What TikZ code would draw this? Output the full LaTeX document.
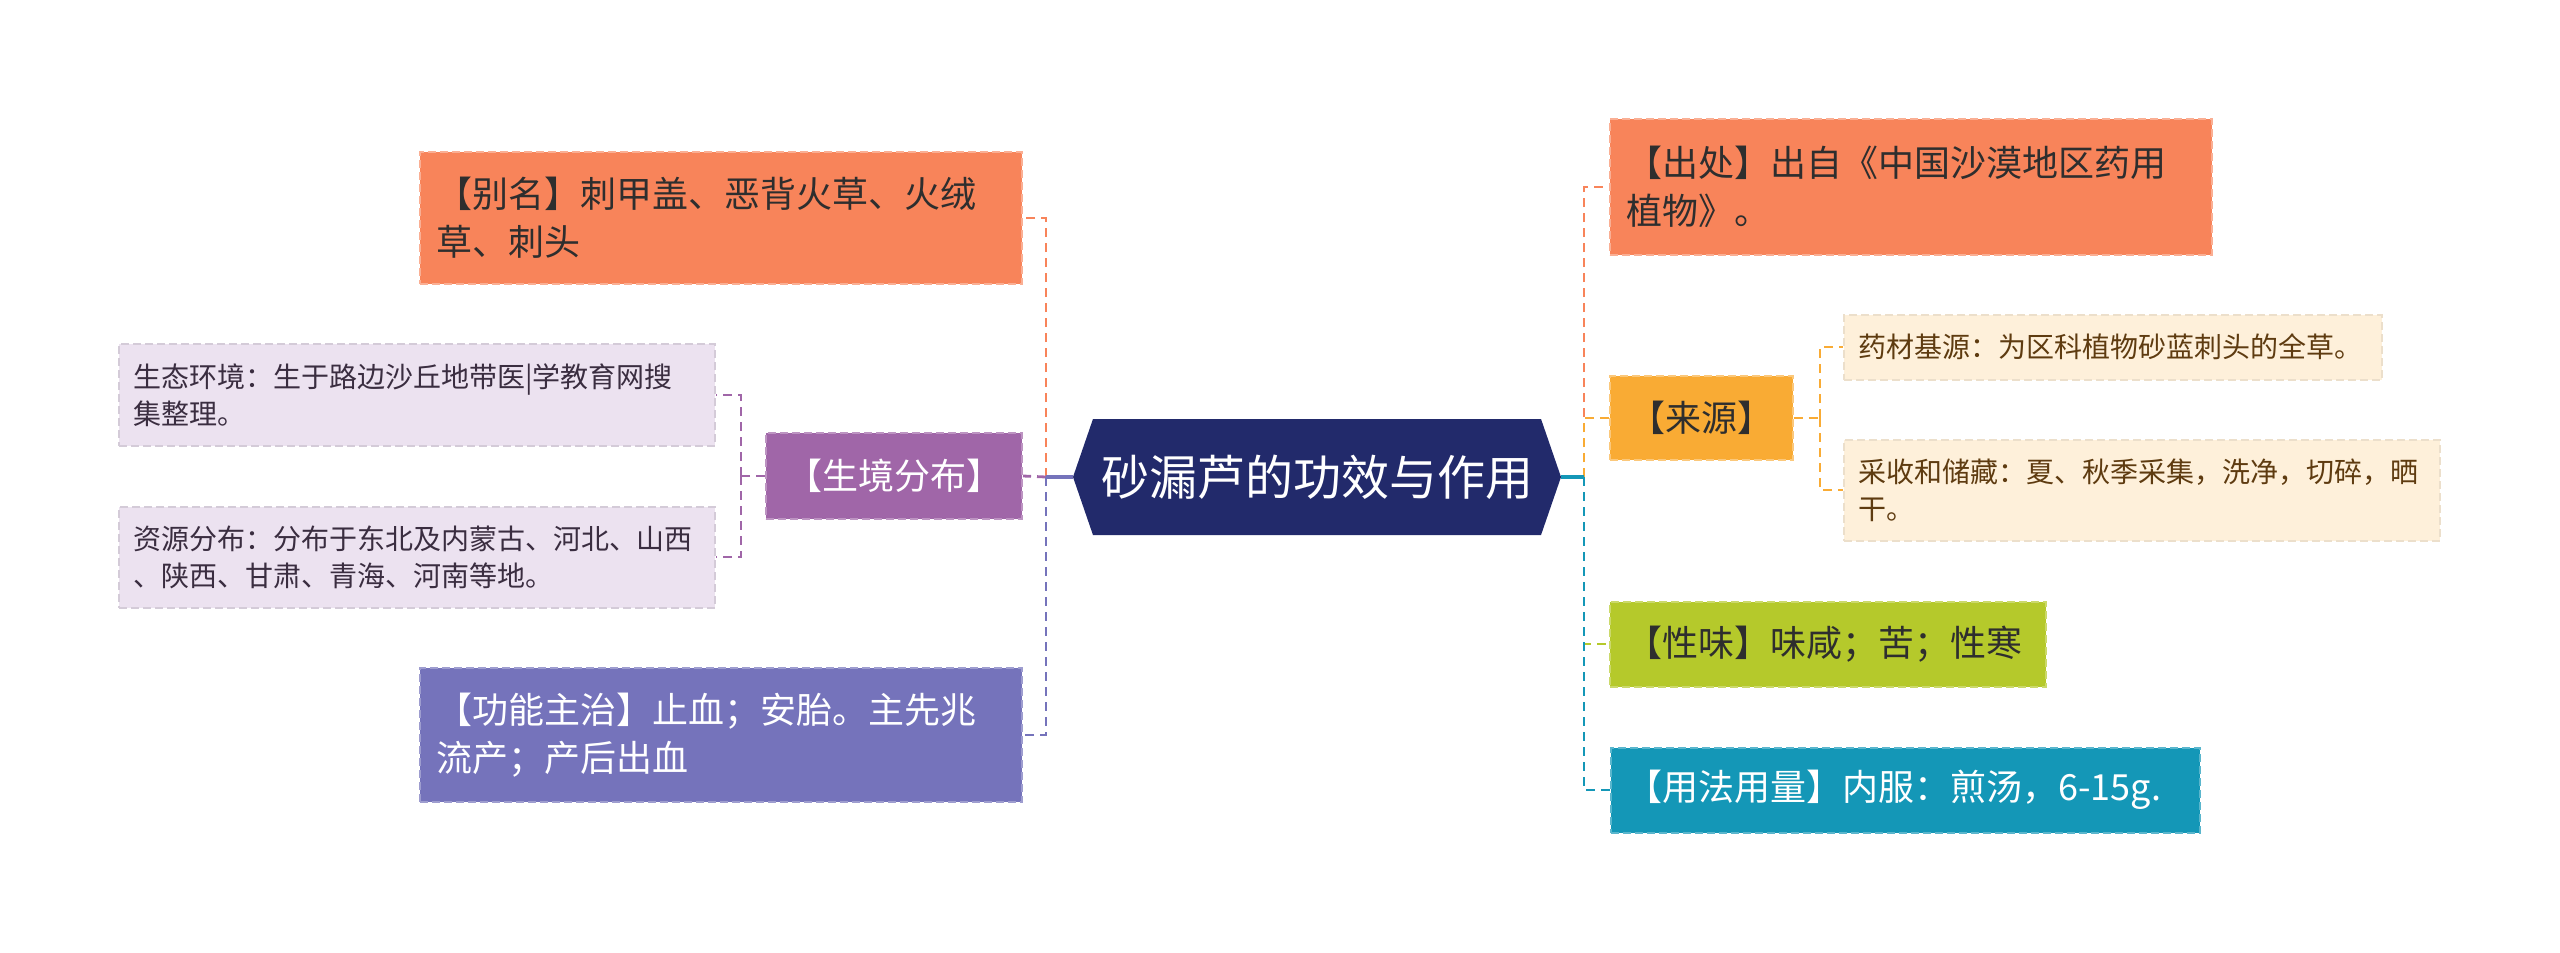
\documentclass[tikz,border=0pt]{standalone}
\usepackage{fontspec}
\setmainfont{Noto Sans CJK SC}
\usetikzlibrary{shapes.symbols}
\definecolor{navy}{HTML}{222A6B}
\definecolor{cOra}{HTML}{F8845A}
\definecolor{cYel}{HTML}{F9AB34}
\definecolor{cPur}{HTML}{A066A8}
\definecolor{cLav}{HTML}{ECE2F0}
\definecolor{cBlu}{HTML}{7573BB}
\definecolor{cCre}{HTML}{FEF0DA}
\definecolor{cGrn}{HTML}{B5C92B}
\definecolor{cTea}{HTML}{1497B7}
\definecolor{tDark}{HTML}{2E2E2E}
\definecolor{tLav}{HTML}{3A2D40}
\definecolor{tBrn}{HTML}{5E3B10}
\begin{document}
\begin{tikzpicture}[x=0.5pt,y=-0.5pt,
  box/.style={rectangle, line width=1pt, dash pattern=on 4pt off 2pt, inner xsep=8pt, inner ysep=0pt, align=left},
  big/.style={font=\fontsize{18}{24}\selectfont},
  small/.style={font=\fontsize{14}{18.5}\selectfont, inner xsep=7pt},
  conn/.style={line width=1.4pt, dash pattern=on 4.5pt off 3pt},
  trunk/.style={line width=1.6pt}]
\useasboundingbox (0,0) rectangle (2560,953);

% central
\node[signal, signal to=west and east, signal pointer angle=142, fill=navy, text=white,
  font=\fontsize{24}{28}\selectfont, minimum width=244pt, minimum height=58pt, inner sep=0pt] (c) at (1317,477) {砂漏芦的功效与作用};

% left
\node[box, big, fill=cOra, draw=cOra!65!white, text=tDark, minimum height=66pt, text width=285pt] (alias) at (721,218) {【别名】刺甲盖、恶背火草、火绒\\草、刺头};
\node[box, big, fill=cPur, draw=cPur!70!white, text=white, minimum height=43pt, minimum width=128pt, align=center] (hab) at (894,476) {【生境分布】};
\node[box, small, fill=cLav, draw=cLav!90!black, text=tLav, minimum height=51pt, text width=284pt] (eco) at (417,395) {生态环境：生于路边沙丘地带医|学教育网搜\\集整理。};
\node[box, small, fill=cLav, draw=cLav!90!black, text=tLav, minimum height=50.5pt, text width=284pt] (dist) at (417,557) {资源分布：分布于东北及内蒙古、河北、山西\\、陕西、甘肃、青海、河南等地。};
\node[box, big, fill=cBlu, draw=cBlu!70!white, text=white, minimum height=67pt, text width=285pt] (func) at (721,735) {【功能主治】止血；安胎。主先兆\\流产；产后出血};

% right
\node[box, big, fill=cOra, draw=cOra!65!white, text=tDark, minimum height=68pt, text width=285pt] (src) at (1911,187) {【出处】出自《中国沙漠地区药用\\植物》。};
\node[box, big, fill=cYel, draw=cYel!65!white, text=tDark, minimum height=42pt, minimum width=91.5pt, align=center] (orig) at (1701,418) {【来源】};
\node[box, small, fill=cCre, draw=cCre!93!black, text=tBrn, minimum height=32.5pt, text width=255pt] (herb) at (2113,347) {药材基源：为区科植物砂蓝刺头的全草。};
\node[box, small, fill=cCre, draw=cCre!93!black, text=tBrn, minimum height=50.5pt, text width=284pt] (harv) at (2142,490) {采收和储藏：夏、秋季采集，洗净，切碎，晒\\干。};
\node[box, big, fill=cGrn, draw=cGrn!70!white, text=tDark, minimum height=42.5pt, text width=202pt] (taste) at (1828,644) {【性味】味咸；苦；性寒};
\node[box, big, fill=cTea, draw=cTea!70!white, text=white, minimum height=42.5pt, text width=278.5pt] (use) at (1905,790) {【用法用量】内服：煎汤，6-15g.};

% junctions
\coordinate (jl) at (1046,477);
\coordinate (jl2) at (741,476);
\coordinate (jr) at (1584,477);
\coordinate (jr2) at (1820,418);

% left connectors
\draw[conn, cOra] (jl) |- (alias.east);
\draw[conn, cPur] (jl) -- (hab.east);
\draw[conn, cBlu] (jl) |- (func.east);
\draw[trunk, cBlu] (c.west) -- (jl);
\draw[conn, cPur] (hab.west) -- (jl2);
\draw[conn, cPur] (jl2) |- (eco.east);
\draw[conn, cPur] (jl2) |- (dist.east);

% right connectors
\draw[conn, cOra] (jr) |- (src.west);
\draw[conn, cYel] (jr) |- (orig.west);
\draw[conn, cGrn] (jr) |- (taste.west);
\draw[conn, cTea] (jr) |- (use.west);
\draw[trunk, cTea] (c.east) -- (jr);
\draw[conn, cYel] (orig.east) -- (jr2);
\draw[conn, cYel] (jr2) |- (herb.west);
\draw[conn, cYel] (jr2) |- (harv.west);
\end{tikzpicture}
\end{document}
